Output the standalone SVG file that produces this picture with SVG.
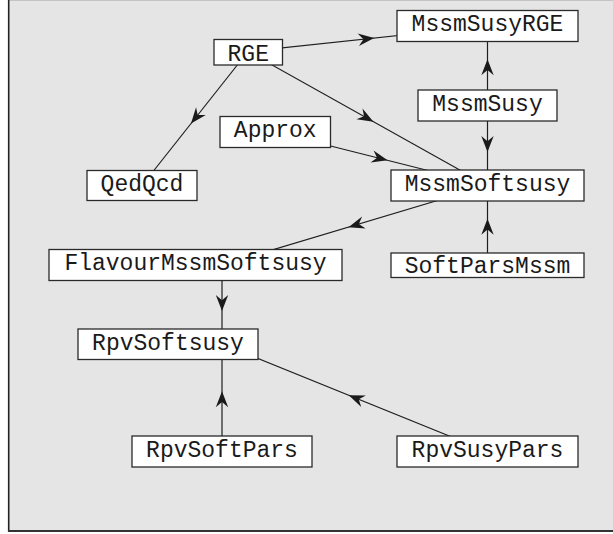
<svg xmlns="http://www.w3.org/2000/svg" xmlns:xlink="http://www.w3.org/1999/xlink" width="613" height="534" viewBox="0 0 613 534">
<style>
.box{fill:#ffffff;stroke:#2a2a2a;stroke-width:1.3}
.lbl{font-family:"Liberation Mono","DejaVu Sans Mono",monospace;font-size:23px;fill:#1a1a1a;text-anchor:middle}
.edge{fill:none;stroke:#1e1e1e;stroke-width:1.2}
.head{fill:#1a1a1a}
</style>
<defs>
<path id="ah" d="M0.5,0 L-15.5,-6.2 L-10.3,0 L-15.5,6.2 Z"/>
</defs>
<rect x="9" y="0" width="604" height="530" fill="#e5e5e5"/>
<line x1="9" y1="0.5" x2="613" y2="0.5" stroke="#c4c4c4" stroke-width="1"/>
<line x1="8.7" y1="0" x2="8.7" y2="532" stroke="#222" stroke-width="1.6"/>
<line x1="8" y1="531" x2="613" y2="531" stroke="#333" stroke-width="2"/>
<g id="connectors">
<path class="edge" d="M248,51.5 L487.5,26"/>
<use class="head" xlink:href="#ah" href="#ah" transform="translate(373.7,38.1) rotate(-6.08)"/>
<path class="edge" d="M248,51.5 L487.5,185.5"/>
<use class="head" xlink:href="#ah" href="#ah" transform="translate(373,121.4) rotate(29.23)"/>
<path class="edge" d="M248,51.5 L142,185.5"/>
<use class="head" xlink:href="#ah" href="#ah" transform="translate(191.3,123.2) rotate(128.35)"/>
<path class="edge" d="M275,132 L487.5,185.5"/>
<use class="head" xlink:href="#ah" href="#ah" transform="translate(387.1,160.2) rotate(14.13)"/>
<path class="edge" d="M487.5,105.5 L487.5,26"/>
<use class="head" xlink:href="#ah" href="#ah" transform="translate(487.5,59.75) rotate(-90)"/>
<path class="edge" d="M487.5,105.5 L487.5,185.5"/>
<use class="head" xlink:href="#ah" href="#ah" transform="translate(487.5,151.5) rotate(90)"/>
<path class="edge" d="M487.5,185.5 L222,265"/>
<use class="head" xlink:href="#ah" href="#ah" transform="translate(349,227) rotate(163.33)"/>
<path class="edge" d="M487.5,265 L487.5,185.5"/>
<use class="head" xlink:href="#ah" href="#ah" transform="translate(487.5,219.25) rotate(-90)"/>
<path class="edge" d="M222,265 L222,344"/>
<use class="head" xlink:href="#ah" href="#ah" transform="translate(222,310.5) rotate(90)"/>
<path class="edge" d="M222,451.5 L222,344"/>
<use class="head" xlink:href="#ah" href="#ah" transform="translate(222,391.75) rotate(-90)"/>
<path class="edge" d="M487.5,451.5 L222,344"/>
<use class="head" xlink:href="#ah" href="#ah" transform="translate(349.2,395.5) rotate(-157.96)"/>
</g>
<g id="MssmSusyRGE"><rect class="box" x="397" y="10.5" width="181" height="31"/><text class="lbl" x="487.5" y="31">MssmSusyRGE</text></g>
<g id="RGE"><rect class="box" x="214" y="39.5" width="68.5" height="25.5"/><text class="lbl" x="248.25" y="60.5">RGE</text></g>
<g id="MssmSusy"><rect class="box" x="418" y="90" width="139" height="31"/><text class="lbl" x="487.5" y="110.5">MssmSusy</text></g>
<g id="Approx"><rect class="box" x="220" y="116.5" width="110.5" height="31"/><text class="lbl" x="275.25" y="137">Approx</text></g>
<g id="QedQcd"><rect class="box" x="87" y="170.5" width="110" height="30"/><text class="lbl" x="142" y="190.5">QedQcd</text></g>
<g id="MssmSoftsusy"><rect class="box" x="391" y="170" width="193" height="31"/><text class="lbl" x="487.5" y="190.5">MssmSoftsusy</text></g>
<g id="FlavourMssmSoftsusy"><rect class="box" x="49" y="249.5" width="293" height="31"/><text class="lbl" x="195.5" y="270">FlavourMssmSoftsusy</text></g>
<g id="SoftParsMssm"><rect class="box" x="391" y="253" width="193" height="24.5"/><text class="lbl" x="487.5" y="273">SoftParsMssm</text></g>
<g id="RpvSoftsusy"><rect class="box" x="78" y="329" width="180" height="30.5"/><text class="lbl" x="168" y="349.5">RpvSoftsusy</text></g>
<g id="RpvSoftPars"><rect class="box" x="132" y="436" width="180" height="31"/><text class="lbl" x="222" y="456.5">RpvSoftPars</text></g>
<g id="RpvSusyPars"><rect class="box" x="397" y="436" width="181" height="31"/><text class="lbl" x="487.5" y="456.5">RpvSusyPars</text></g>
</svg>
